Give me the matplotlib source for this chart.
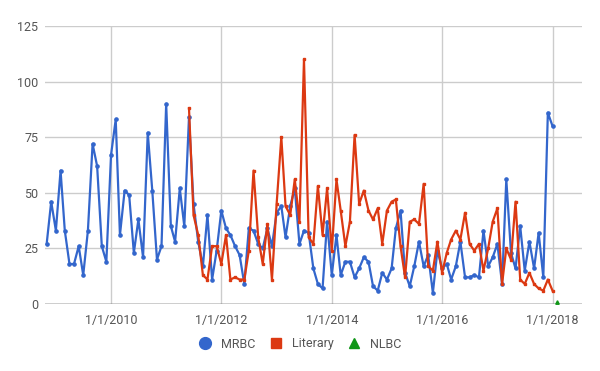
import matplotlib
matplotlib.use("Agg")
import matplotlib.pyplot as plt
from matplotlib.lines import Line2D
import pandas as pd

plt.rcParams["font.family"] = ["Roboto", "DejaVu Sans"]

# monthly counts
mrbc_start = "2008-11-01"
mrbc_values = [
    27, 46,
    33, 60, 33, 18, 18, 26, 13, 33, 72, 62, 26, 19,  # 2009
    67, 83, 31, 51, 49, 23, 38, 21, 77, 51, 20, 26,  # 2010
    90, 35, 28, 52, 35, 84, 45, 28, 17, 40, 11, 24,  # 2011
    42, 34, 31, 26, 22, 9, 34, 33, 27, 25, 34, 26,   # 2012
    41, 44, 30, 44, 52, 27, 33, 32, 16, 9, 7, 37,    # 2013
    13, 31, 13, 19, 19, 12, 16, 21, 19, 8, 6, 14,    # 2014
    11, 16, 34, 42, 14, 8, 17, 28, 17, 22, 5, 24,    # 2015
    16, 18, 11, 17, 28, 12, 12, 13, 12, 33, 17, 21,  # 2016
    27, 9, 56, 23, 16, 35, 15, 28, 16, 32, 12, 86,   # 2017
    80,
]

literary_start = "2011-06-01"
literary_values = [
    88, 40, 31, 13, 11, 26, 26,                      # 2011
    18, 31, 11, 12, 11, 11, 24, 60, 30, 18, 36, 11,  # 2012
    45, 75, 44, 40, 56, 37, 110, 30, 27, 53, 31, 52, # 2013
    24, 56, 42, 26, 37, 76, 45, 51, 42, 38, 43, 27,  # 2014
    42, 46, 47, 26, 12, 37, 38, 36, 54, 17, 15, 28,  # 2015
    14, 23, 29, 33, 29, 41, 27, 24, 27, 15, 25, 37,  # 2016
    43, 9, 25, 20, 46, 11, 9, 14, 9, 7, 6, 11,       # 2017
    6,
]

nlbc_dates = ["2018-02-01"]
nlbc_values = [1]

series_names = ["MRBC", "Literary", "NLBC"]
y_ticks = [0, 25, 50, 75, 100, 125]
x_tick_dates = ["2010-01-01", "2012-01-01", "2014-01-01", "2016-01-01", "2018-01-01"]
x_tick_labels = ["1/1/2010", "1/1/2012", "1/1/2014", "1/1/2016", "1/1/2018"]

BLUE = "#3366cc"
RED = "#dc3912"
GREEN = "#109618"
TEXT = "#555555"


def main():
    mrbc_dates = pd.date_range(mrbc_start, periods=len(mrbc_values), freq="MS")
    literary_dates = pd.date_range(literary_start, periods=len(literary_values), freq="MS")

    fig = plt.figure(figsize=(6, 3.71), dpi=100)
    ax = fig.add_axes([45 / 600, 1 - 304 / 371, 537 / 600, 278 / 371])

    ax.plot(mrbc_dates, mrbc_values, color=BLUE, lw=1.6, marker="o", ms=2.3, zorder=3)
    ax.plot(literary_dates, literary_values, color=RED, lw=1.6, marker="s", ms=2.0, zorder=4)
    ax.plot(pd.to_datetime(nlbc_dates), nlbc_values, color=GREEN, marker="^",
            ms=2.5, linestyle="none", zorder=5, clip_on=False)

    ax.set_ylim(0, 125)
    ax.set_yticks(y_ticks)
    ax.set_xlim(pd.Timestamp("2008-10-21"), pd.Timestamp("2018-07-15"))
    ax.set_xticks(pd.to_datetime(x_tick_dates))
    ax.set_xticklabels(x_tick_labels)

    ax.grid(True, color="#cccccc", lw=1)
    ax.set_axisbelow(True)
    ax.axhline(0, color="#333333", lw=1, zorder=2)
    for s in ax.spines.values():
        s.set_visible(False)
    ax.tick_params(length=0, labelsize=9, labelcolor=TEXT)
    ax.tick_params(axis="x", pad=7)
    ax.tick_params(axis="y", pad=5)

    handles = [
        Line2D([], [], color=BLUE, marker="o", ms=8.5, linestyle="none"),
        Line2D([], [], color=RED, marker="s", ms=6.5, linestyle="none"),
        Line2D([], [], color=GREEN, marker="^", ms=7, linestyle="none"),
    ]
    fig.legend(handles, series_names, loc="center", bbox_to_anchor=(0.5, 1 - 344 / 371),
               ncol=3, frameon=False, fontsize=9, labelcolor=TEXT,
               handlelength=1, handletextpad=0.8, columnspacing=1.1)

    fig.savefig("out.png", dpi=100)


if __name__ == "__main__":
    main()
